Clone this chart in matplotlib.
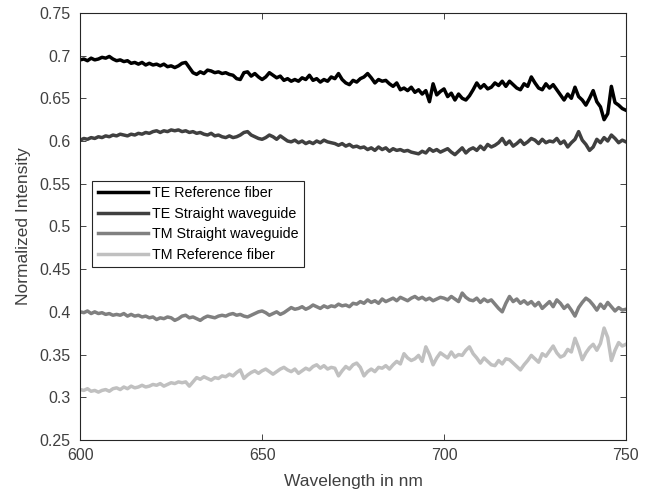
import numpy as np
import matplotlib
matplotlib.use('Agg')
import matplotlib.pyplot as plt
from matplotlib.ticker import FuncFormatter

# Wavelength axis (nm), 1 nm steps
wavelength = np.arange(600, 751)

# TE Reference fiber
te_ref = [
    0.695, 0.696, 0.694, 0.697, 0.695, 0.696, 0.698, 0.697, 0.699, 0.696,
    0.694, 0.695, 0.693, 0.694, 0.691, 0.692, 0.690, 0.692, 0.689, 0.691,
    0.689, 0.690, 0.688, 0.690, 0.687, 0.688, 0.686, 0.688, 0.691, 0.692,
    0.686, 0.680, 0.678, 0.681, 0.679, 0.683, 0.682, 0.680, 0.681, 0.679,
    0.680, 0.678, 0.677, 0.673, 0.672, 0.680, 0.681, 0.676, 0.679, 0.675,
    0.672, 0.675, 0.680, 0.677, 0.674, 0.676, 0.671, 0.673, 0.670, 0.672,
    0.670, 0.674, 0.672, 0.677, 0.671, 0.673, 0.669, 0.672, 0.670, 0.675,
    0.673, 0.679, 0.672, 0.668, 0.666, 0.671, 0.669, 0.673, 0.675, 0.679,
    0.674, 0.668, 0.672, 0.670, 0.671, 0.667, 0.664, 0.668, 0.660, 0.662,
    0.659, 0.663, 0.657, 0.660, 0.655, 0.659, 0.646, 0.667, 0.654, 0.658,
    0.661, 0.652, 0.656, 0.648, 0.655, 0.650, 0.648, 0.653, 0.660, 0.668,
    0.662, 0.666, 0.661, 0.663, 0.668, 0.665, 0.670, 0.664, 0.670, 0.666,
    0.662, 0.660, 0.667, 0.664, 0.675, 0.668, 0.662, 0.660, 0.667, 0.662,
    0.666, 0.660, 0.654, 0.648, 0.655, 0.650, 0.663, 0.652, 0.648, 0.642,
    0.650, 0.659, 0.646, 0.640, 0.625, 0.632, 0.664, 0.645, 0.642, 0.638,
    0.636,
]

# TE Straight waveguide
te_sw = [
    0.601, 0.603, 0.602, 0.604, 0.603, 0.605, 0.604, 0.606, 0.605, 0.607,
    0.606, 0.608, 0.607, 0.606, 0.608, 0.607, 0.609, 0.608, 0.610, 0.609,
    0.611, 0.612, 0.610, 0.612, 0.611, 0.613, 0.612, 0.613, 0.611, 0.612,
    0.610, 0.611, 0.609, 0.610, 0.608, 0.607, 0.609, 0.606, 0.607, 0.605,
    0.604, 0.606, 0.604, 0.605, 0.607, 0.610, 0.611, 0.607, 0.605, 0.603,
    0.602, 0.604, 0.607, 0.605, 0.602, 0.606, 0.603, 0.600, 0.599, 0.601,
    0.598, 0.600, 0.597, 0.599, 0.597, 0.600, 0.598, 0.601, 0.599, 0.598,
    0.597, 0.595, 0.597, 0.594, 0.596, 0.593, 0.594, 0.592, 0.593, 0.590,
    0.592, 0.589, 0.593, 0.590, 0.592, 0.588, 0.591, 0.589, 0.590, 0.588,
    0.589, 0.587, 0.586, 0.585, 0.588, 0.586, 0.591, 0.588, 0.590, 0.587,
    0.589, 0.591, 0.587, 0.584, 0.588, 0.592, 0.586, 0.590, 0.592, 0.589,
    0.594, 0.590, 0.596, 0.593, 0.595, 0.598, 0.603, 0.596, 0.600, 0.594,
    0.597, 0.601, 0.596, 0.599, 0.603, 0.601, 0.597, 0.602, 0.598, 0.600,
    0.599, 0.603, 0.597, 0.600, 0.593, 0.598, 0.602, 0.611, 0.601, 0.596,
    0.589, 0.593, 0.602, 0.598, 0.604, 0.600, 0.607, 0.603, 0.598, 0.601,
    0.599,
]

# TM Straight waveguide
tm_sw = [
    0.400, 0.399, 0.401, 0.398, 0.400, 0.398, 0.399, 0.397, 0.398, 0.396,
    0.397, 0.396, 0.398, 0.395, 0.397, 0.395, 0.396, 0.394, 0.395, 0.393,
    0.394, 0.391, 0.393, 0.392, 0.394, 0.393, 0.390, 0.392, 0.395, 0.396,
    0.393, 0.394, 0.392, 0.390, 0.393, 0.395, 0.394, 0.393, 0.395, 0.396,
    0.395, 0.397, 0.398, 0.396, 0.397, 0.395, 0.394, 0.396, 0.398, 0.400,
    0.401, 0.399, 0.396, 0.398, 0.400, 0.397, 0.399, 0.402, 0.405, 0.403,
    0.404, 0.406, 0.403, 0.405, 0.408, 0.406, 0.404, 0.407, 0.405, 0.407,
    0.406, 0.409, 0.407, 0.408, 0.406, 0.410, 0.409, 0.412, 0.410, 0.414,
    0.411, 0.413, 0.410, 0.415, 0.412, 0.414, 0.416, 0.413, 0.417, 0.415,
    0.413, 0.416, 0.418, 0.415, 0.417, 0.414, 0.416, 0.413, 0.415, 0.417,
    0.416, 0.414, 0.418, 0.415, 0.412, 0.422, 0.417, 0.414, 0.413, 0.416,
    0.411, 0.415, 0.412, 0.414, 0.409, 0.404, 0.400, 0.410, 0.418, 0.412,
    0.415, 0.410, 0.413, 0.409, 0.412, 0.407, 0.411, 0.404, 0.408, 0.412,
    0.406, 0.414, 0.410, 0.404, 0.408, 0.402, 0.395, 0.405, 0.411, 0.416,
    0.413, 0.408, 0.402, 0.409, 0.404, 0.411, 0.406, 0.401, 0.405, 0.402,
    0.403,
]

# TM Reference fiber
tm_ref = [
    0.309, 0.308, 0.310, 0.307, 0.308, 0.306, 0.308, 0.309, 0.307, 0.310,
    0.311, 0.309, 0.312, 0.310, 0.313, 0.311, 0.312, 0.314, 0.312, 0.313,
    0.315, 0.314, 0.316, 0.313, 0.315, 0.317, 0.316, 0.318, 0.317, 0.318,
    0.313, 0.318, 0.323, 0.321, 0.324, 0.322, 0.320, 0.323, 0.322, 0.325,
    0.324, 0.327, 0.325, 0.329, 0.332, 0.322, 0.326, 0.329, 0.331, 0.328,
    0.331, 0.333, 0.330, 0.327, 0.330, 0.333, 0.335, 0.332, 0.330, 0.333,
    0.328, 0.331, 0.334, 0.332, 0.336, 0.338, 0.334, 0.337, 0.333, 0.335,
    0.334, 0.325, 0.331, 0.336, 0.333, 0.338, 0.340, 0.335, 0.325, 0.330,
    0.333, 0.330, 0.335, 0.334, 0.337, 0.333, 0.338, 0.342, 0.339, 0.351,
    0.346, 0.343, 0.345, 0.349, 0.342, 0.359, 0.350, 0.338, 0.346, 0.352,
    0.349, 0.346, 0.353, 0.347, 0.350, 0.349, 0.355, 0.359, 0.351, 0.346,
    0.340, 0.346, 0.342, 0.338, 0.337, 0.343, 0.339, 0.345, 0.344, 0.340,
    0.336, 0.332, 0.338, 0.343, 0.349, 0.345, 0.341, 0.351, 0.348, 0.354,
    0.360, 0.352, 0.347, 0.349, 0.356, 0.353, 0.369, 0.358, 0.344, 0.352,
    0.358, 0.362, 0.355, 0.363, 0.381, 0.370, 0.343, 0.355, 0.364, 0.360,
    0.362,
]

labels = ['TE Reference fiber', 'TE Straight waveguide',
          'TM Straight waveguide', 'TM Reference fiber']
series = [te_ref, te_sw, tm_sw, tm_ref]
colors = ['#000000', '#404040', '#808080', '#c0c0c0']

plt.rcParams['font.family'] = ['Liberation Sans', 'DejaVu Sans']

fig = plt.figure(figsize=(6.52, 4.96), dpi=100)
ax = fig.add_axes([0.123, 0.113, 0.837, 0.861])

for y, lab, col in zip(series, labels, colors):
    ax.plot(wavelength, y, color=col, lw=2.5, label=lab)

ax.set_xlim(600, 750)
ax.set_ylim(0.25, 0.75)
ax.set_xticks([600, 650, 700, 750])
ax.set_yticks(np.arange(0.25, 0.751, 0.05))
ax.yaxis.set_major_formatter(FuncFormatter(lambda v, p: '%g' % round(v, 2)))

axcol = '#262626'
for s in ax.spines.values():
    s.set_color(axcol)
    s.set_linewidth(0.8)
ax.tick_params(direction='in', top=True, right=True, length=4, width=0.6,
               colors=axcol, labelcolor='#404040', labelsize=11.5)
ax.tick_params(axis='x', pad=6)
ax.tick_params(axis='y', pad=7)

ax.set_xlabel('Wavelength in nm', fontsize=12.5, color='#404040', labelpad=8)
ax.set_ylabel('Normalized Intensity', fontsize=12.5, color='#404040', labelpad=6)

leg = ax.legend(loc='upper left', bbox_to_anchor=(0.022, 0.607),
                fontsize=10.3, handlelength=3.5, handletextpad=0.25,
                labelspacing=0.45, borderpad=0.4, borderaxespad=0,
                fancybox=False, framealpha=1, edgecolor=axcol)
leg.get_frame().set_linewidth(0.8)
for h in leg.get_lines():
    h.set_linewidth(2.5)

fig.savefig('out.png', dpi=100)
